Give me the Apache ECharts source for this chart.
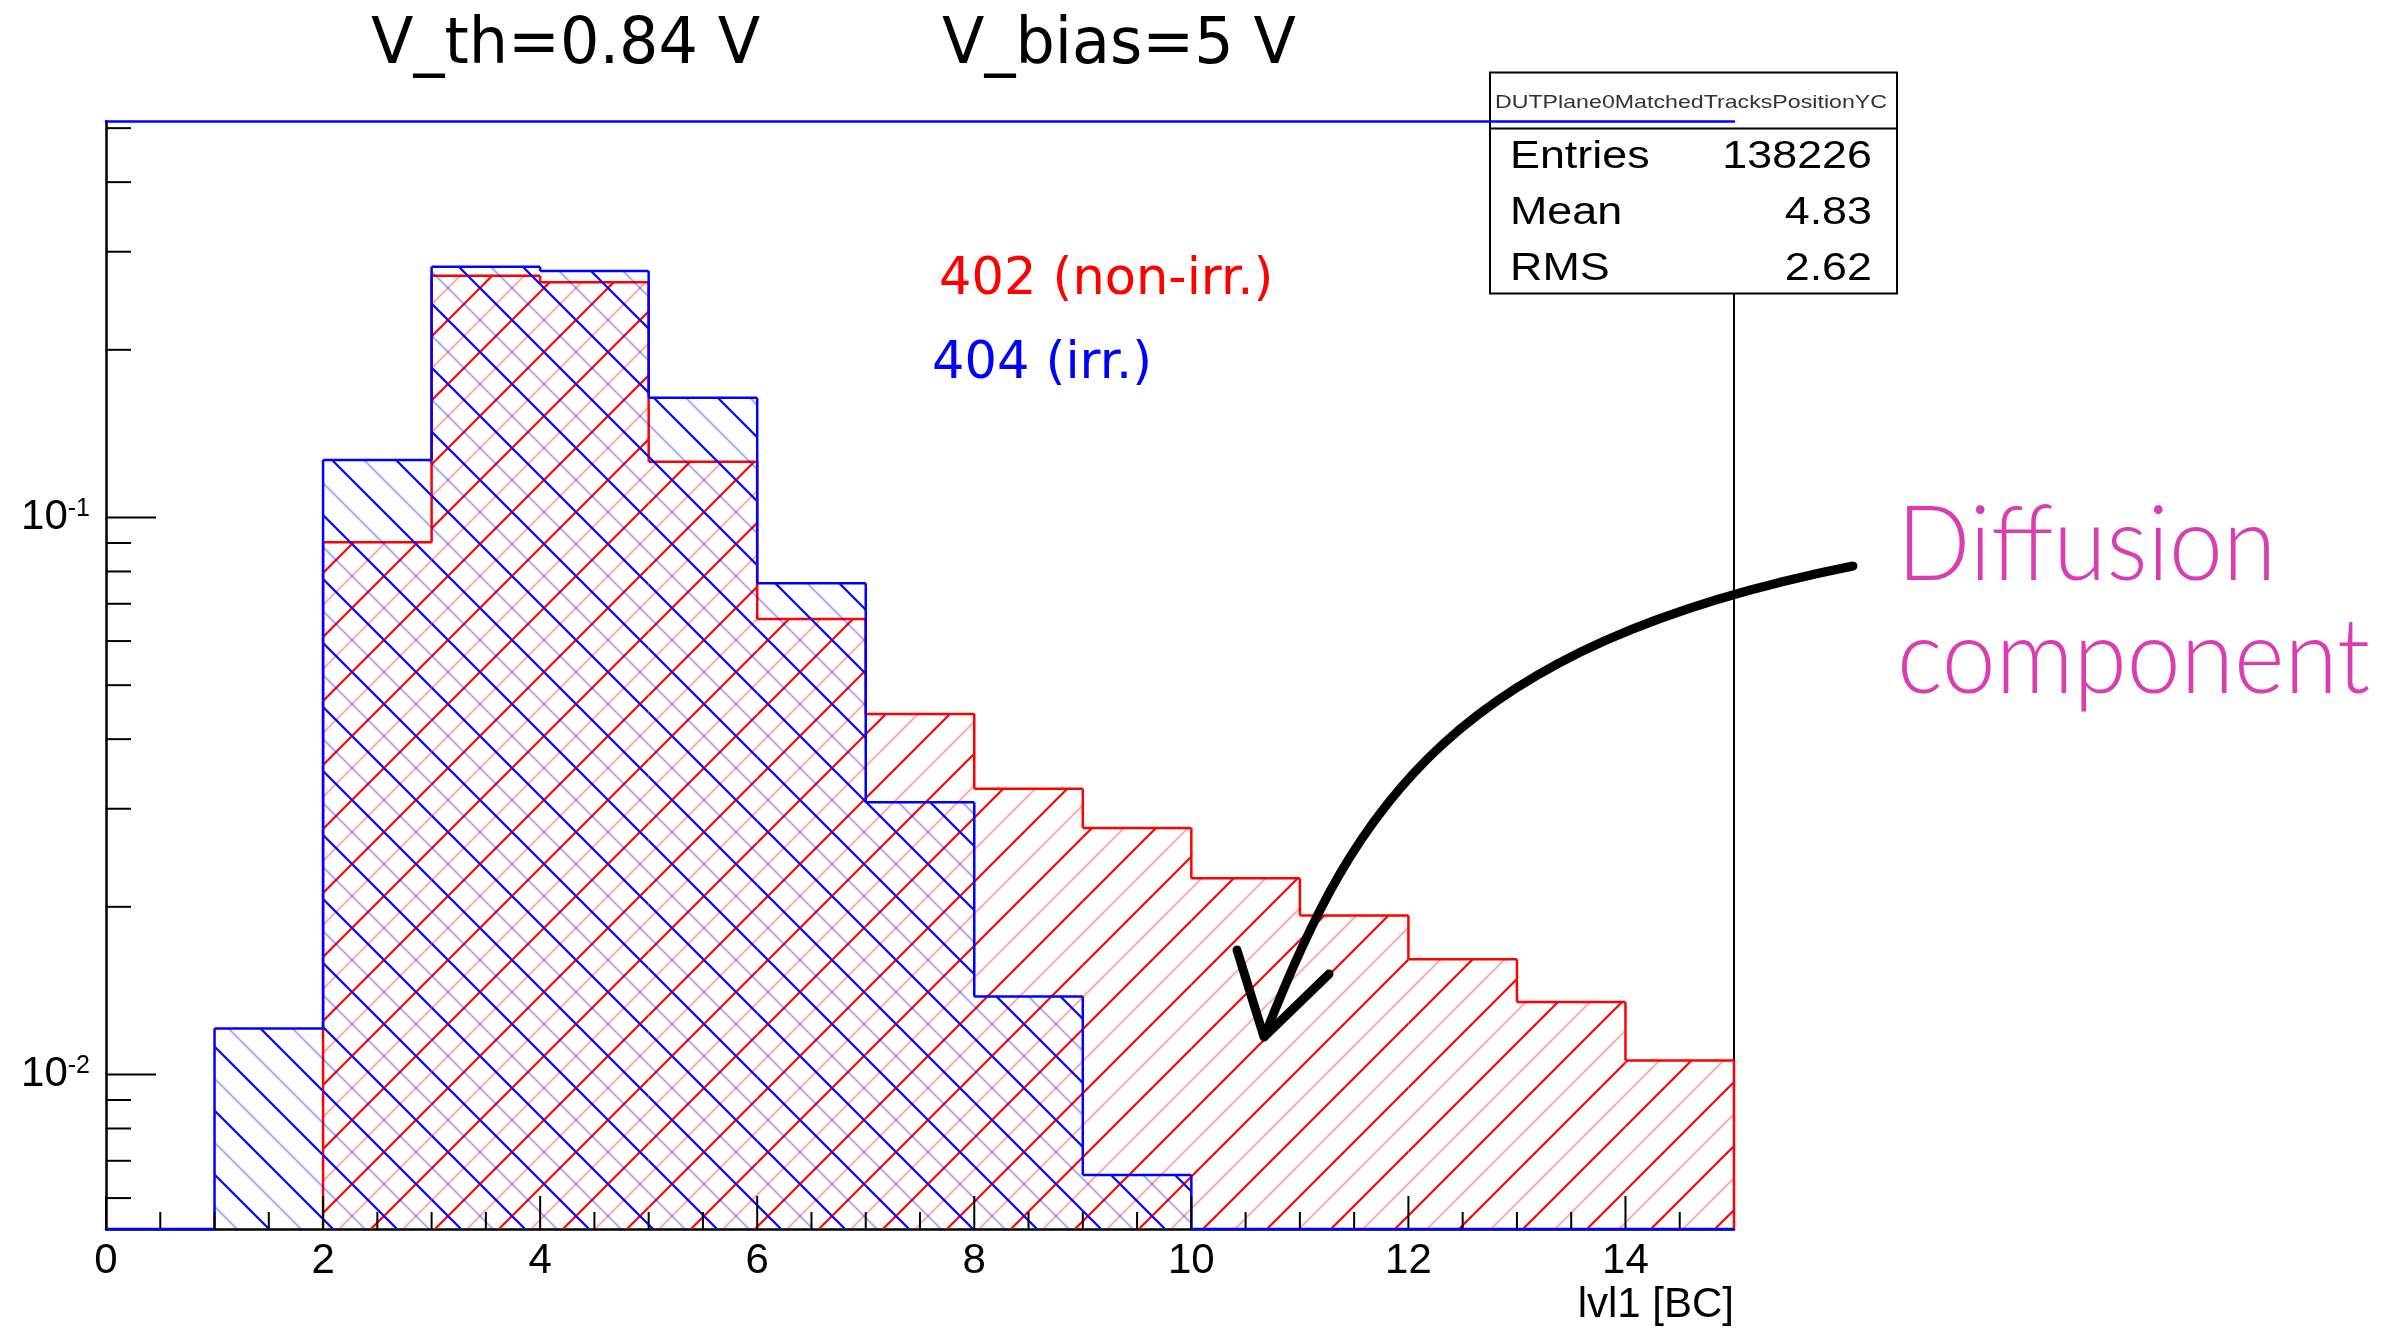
<!DOCTYPE html>
<html><head><meta charset="utf-8">
<script src="https://cdn.jsdelivr.net/npm/echarts@6/dist/echarts.min.js"></script>
<style>html,body{margin:0;padding:0;background:#fff}#c{width:2391px;height:1330px}</style>
</head><body><div id="c"></div>
<script>
// ---------------- data ----------------
const binLow = [0,1,2,3,4,5,6,7,8,9,10,11,12,13,14];
const binWidth = 1;
const irr404    = [0, 0.0121, 0.1268, 0.2820, 0.2770, 0.1641, 0.0762, 0.0308, 0.0138, 0.0066, 0, 0, 0, 0, 0];
const nonIrr402 = [0, 0, 0.0903, 0.2715, 0.2644, 0.1259, 0.0657, 0.0444, 0.0326, 0.0277, 0.0225, 0.0193, 0.0161, 0.0135, 0.0106];
const xMajorTicks = [0,2,4,6,8,10,12,14];
const xMinorTicks = [0.5,1,1.5,2.5,3,3.5,4.5,5,5.5,6.5,7,7.5,8.5,9,9.5,10.5,11,11.5,12.5,13,13.5,14.5];
const yMajorTicks = [0.01, 0.1];
const yMinorTicks = [0.006,0.007,0.008,0.009,0.02,0.03,0.04,0.05,0.06,0.07,0.08,0.09,0.2,0.3,0.4,0.5];
const statsLabels = ['Entries','Mean','RMS'];
const statsValues = ['138226','4.83','2.62'];
const statsTitle = 'DUTPlane0MatchedTracksPositionYC';
const titleTh = 'V_th=0.84 V';
const titleBias = 'V_bias=5 V';
const name402 = '402 (non-irr.)';
const name404 = '404 (irr.)';
const xAxisName = 'lvl1 [BC]';
const X_MIN = 0, X_MAX = 15, Y_MIN = 0.00528, Y_MAX = 0.515;

// ---------------- hatch patterns ----------------
function makeHatch(color, faint, dir) {
  const P = 64;
  const cv = document.createElement('canvas');
  cv.width = P; cv.height = P;
  const ctx = cv.getContext('2d');
  const draw = (c, col, w) => {
    ctx.beginPath();
    ctx.strokeStyle = col; ctx.lineWidth = w;
    if (dir === 'back') { ctx.moveTo(c - P, -P); ctx.lineTo(c + 2 * P, 2 * P); }
    else { ctx.moveTo(c + P, -P); ctx.lineTo(c - 2 * P, 2 * P); }
    ctx.stroke();
  };
  const cs = dir === 'back' ? [-P, 0, P] : [0, P, 2 * P];
  cs.forEach(c => { draw(c + P / 2, faint, 2); draw(c - P / 2, faint, 2); });
  cs.forEach(c => draw(c, color, 2.2));
  return { image: cv, repeat: 'repeat' };
}
const patBlue = makeHatch('#0000ff', 'rgba(0,0,255,0.18)', 'back');
const patRed = makeHatch('#ff0000', 'rgba(255,0,0,0.18)', 'fwd');

function histData(vals) {
  return binLow.map((lo, i) => [lo, lo + binWidth, vals[i], i > 0 ? vals[i - 1] : 0, i === binLow.length - 1 ? 1 : 0]);
}
function histRender(color, pattern, zeroLine) {
  return function (params, api) {
    const lo = api.value(0), hi = api.value(1), v = api.value(2), prev = api.value(3), last = api.value(4);
    const yOf = val => api.coord([X_MIN, val > 0 ? val : Y_MIN])[1];
    const xl = api.coord([lo, Y_MIN])[0], xr = api.coord([hi, Y_MIN])[0];
    const yb = yOf(0), yt = yOf(v), yp = yOf(prev);
    const st = { stroke: color, lineWidth: 2.5, fill: null };
    const ch = [];
    if (v > 0) ch.push({ type: 'rect', shape: { x: xl, y: yt, width: xr - xl, height: yb - yt }, style: { fill: pattern } });
    if (v > 0 || zeroLine) ch.push({ type: 'line', shape: { x1: xl, y1: yt, x2: xr, y2: yt }, style: st });
    if (v > 0 || prev > 0) ch.push({ type: 'line', shape: { x1: xl, y1: yp, x2: xl, y2: yt }, style: st });
    if (last && v > 0) ch.push({ type: 'line', shape: { x1: xr, y1: yt, x2: xr, y2: yb }, style: st });
    return { type: 'group', children: ch };
  };
}

const font = (size, fam, w) => (w ? w + ' ' : '') + size + 'px ' + fam;
function txt(text, x, y, size, fam, color, align, opts) {
  opts = opts || {};
  return { type: 'text', x: x, y: y, z: opts.z || 70, scaleX: opts.sx || 1, scaleY: opts.sy || 1,
    style: { text: text, font: font(size, fam, opts.weight), fill: color,
      align: align, textAlign: align, verticalAlign: 'middle', textVerticalAlign: 'middle' } };
}
const SANS = '"Liberation Sans", Arial';

const graphics = [];
// stats box
graphics.push({ type: 'rect', z: 50, shape: { x: 1490, y: 72.5, width: 407, height: 221 }, style: { fill: '#fff', stroke: '#000', lineWidth: 2 } });
graphics.push({ type: 'line', z: 51, shape: { x1: 1490, y1: 128.5, x2: 1897, y2: 128.5 }, style: { stroke: '#000', lineWidth: 2 } });
graphics.push(txt(statsTitle, 1691, 103, 19, SANS, '#333', 'center', { z: 71, sx: 1.22 }));
statsLabels.forEach((s, i) => {
  graphics.push(txt(s, 1510, 157.5 + i * 56, 38, SANS, '#000', 'left', { z: 71, sx: 1.18 }));
  graphics.push(txt(statsValues[i], 1872, 157.5 + i * 56, 38, SANS, '#000', 'right', { z: 71, sx: 1.18 }));
});
// titles and legend texts
graphics.push(txt(titleTh, 371, 46.5, 62, '"DejaVu Sans"', '#000', 'left', { sy: 1.04 }));
graphics.push(txt(titleBias, 942, 46.5, 62, '"DejaVu Sans"', '#000', 'left', { sy: 1.04 }));
graphics.push(txt(name402, 939, 280.7, 51, '"DejaVu Sans"', '#ff0000', 'left'));
graphics.push(txt(name404, 932, 364.4, 51, '"DejaVu Sans"', '#0000ff', 'left'));
// axis title
graphics.push(txt(xAxisName, 1734, 1305.5, 42, SANS, '#000', 'right'));
// annotation
graphics.push(txt('Diffusion', 1897, 546, 104, 'Lato, "Liberation Sans"', '#d93db0', 'left', { weight: '300', sx: 0.93 }));
graphics.push(txt('component', 1897, 659, 104, 'Lato, "Liberation Sans"', '#d93db0', 'left', { weight: '300', sx: 0.93 }));
graphics.push({ type: 'bezierCurve', z: 80, shape: { x1: 1853, y1: 566, cpx1: 1453, cpy1: 646, cpx2: 1355, cpy2: 805, x2: 1265, y2: 1035 },
  style: { stroke: '#000', lineWidth: 9, fill: null, lineCap: 'round' } });
graphics.push({ type: 'polyline', z: 80, shape: { points: [[1237, 950], [1264, 1037], [1329, 974]] },
  style: { stroke: '#000', lineWidth: 9, fill: null, lineCap: 'round', lineJoin: 'round' } });

const chart = echarts.init(document.getElementById('c'), null, { renderer: 'canvas' });
chart.setOption({
  animation: false,
  backgroundColor: '#fff',
  grid: { left: 106, top: 121, width: 1628, height: 1108, containLabel: false },
  xAxis: [
    { type: 'value', min: X_MIN, max: X_MAX, interval: 2, position: 'bottom',
      axisLine: { show: true, onZero: false, lineStyle: { color: '#000', width: 2.5 } },
      axisTick: { show: false }, splitLine: { show: false },
      axisLabel: { margin: 11, fontSize: 42, fontFamily: SANS, color: '#000',
        showMinLabel: true, showMaxLabel: true,
        formatter: v => (xMajorTicks.indexOf(v) >= 0 ? String(v) : '') } },
    { type: 'value', min: X_MIN, max: X_MAX, interval: 2, position: 'top', z: 60,
      axisLine: { show: true, onZero: false, lineStyle: { color: '#0000ff', width: 2.5 } },
      axisTick: { show: false }, axisLabel: { show: false }, splitLine: { show: false } }
  ],
  yAxis: [
    { type: 'log', logBase: 10, min: Y_MIN, max: Y_MAX, position: 'left',
      axisLine: { show: true, onZero: false, lineStyle: { color: '#000', width: 2.5 } },
      axisTick: { show: false }, splitLine: { show: false }, minorTick: { show: false },
      axisLabel: { margin: 16, color: '#000', showMinLabel: true, showMaxLabel: true,
        formatter: v => {
          const hit = yMajorTicks.find(t => Math.abs(t - v) / t < 1e-6);
          if (!hit) return '';
          return '{b|10}{s|' + Math.round(Math.log10(hit)) + '}';
        },
        rich: {
          b: { fontSize: 42, fontFamily: SANS, color: '#000', lineHeight: 42 },
          s: { fontSize: 25, fontFamily: SANS, color: '#000', lineHeight: 25, verticalAlign: 'top' }
        } } },
    { type: 'log', logBase: 10, min: Y_MIN, max: Y_MAX, position: 'right',
      axisLine: { show: true, onZero: false, lineStyle: { color: '#000', width: 2 } },
      axisTick: { show: false }, axisLabel: { show: false }, splitLine: { show: false } }
  ],
  graphic: { elements: graphics },
  series: [
    { type: 'custom', name: name402, z: 2, coordinateSystem: 'cartesian2d', xAxisIndex: 0, yAxisIndex: 0,
      encode: { x: [0, 1], y: 2 }, data: histData(nonIrr402), renderItem: histRender('#ff0000', patRed, false), clip: false },
    { type: 'custom', name: name404, z: 3, coordinateSystem: 'cartesian2d', xAxisIndex: 0, yAxisIndex: 0,
      encode: { x: [0, 1], y: 2 }, data: histData(irr404), renderItem: histRender('#0000ff', patBlue, true), clip: false },
    { type: 'custom', z: 5, coordinateSystem: 'cartesian2d', encode: { x: 0, y: 1 }, clip: false,
      data: xMajorTicks.map(v => [v, Y_MIN, 33]).concat(xMinorTicks.map(v => [v, Y_MIN, 17])),
      renderItem: (p, api) => { const c = api.coord([api.value(0), Y_MIN]); const L = api.value(2);
        return { type: 'line', shape: { x1: c[0], y1: c[1], x2: c[0], y2: c[1] - L }, style: { stroke: '#000', lineWidth: 2 } }; } },
    { type: 'custom', z: 5, coordinateSystem: 'cartesian2d', encode: { x: 0, y: 1 }, clip: false,
      data: yMajorTicks.map(v => [X_MIN, v, 50]).concat(yMinorTicks.map(v => [X_MIN, v, 25])),
      renderItem: (p, api) => { const c = api.coord([X_MIN, api.value(1)]); const L = api.value(2);
        return { type: 'line', shape: { x1: c[0], y1: c[1], x2: c[0] + L, y2: c[1] }, style: { stroke: '#000', lineWidth: 2 } }; } }
  ]
});
</script>
</body></html>
